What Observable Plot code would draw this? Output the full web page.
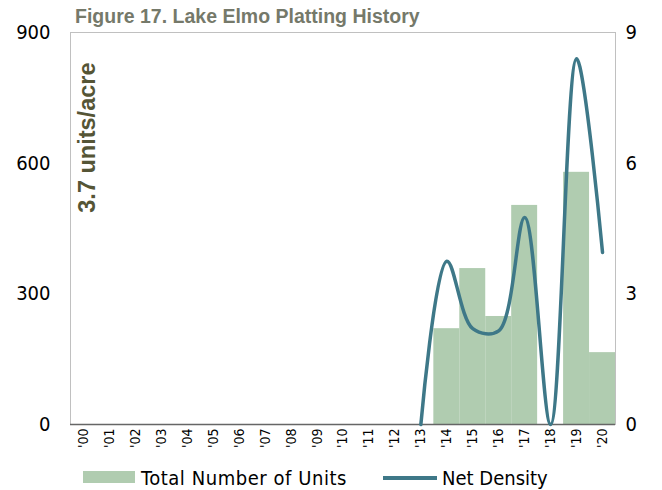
<!DOCTYPE html>
<html>
<head>
<meta charset="utf-8">
<script src="https://cdn.jsdelivr.net/npm/d3@7"></script>
<script src="https://cdn.jsdelivr.net/npm/@observablehq/plot@0.6"></script>
<style>
  body { margin: 0; background: #fff; }
  #wrap { position: relative; width: 662px; height: 490px; overflow: hidden; }
  #title { box-sizing: border-box; height: 26px; padding: 6.5px 0 0 75px; font: bold 19.5px "Liberation Sans", Arial, sans-serif; line-height: 19.5px; color: #75796a; white-space: nowrap; }
  #legend { position: relative; height: 34px; font-family: "DejaVu Sans Condensed", "DejaVu Sans", sans-serif; font-stretch: condensed; font-size: 20px; line-height: 20px; color: #000; }
  #legend .sw { position: absolute; }
  #legend .tx { position: absolute; top: 12px; white-space: nowrap; }
</style>
</head>
<body>
<div id="wrap">
  <div id="title">Figure 17. Lake Elmo Platting History</div>
  <div id="chart"></div>
  <div id="legend"></div>
</div>
<script>
const years = ["'00","'01","'02","'03","'04","'05","'06","'07","'08","'09","'10","'11","'12","'13","'14","'15","'16","'17","'18","'19","'20"];
const units = [0,0,0,0,0,0,0,0,0,0,0,0,0,0,220,358,248,503,0,579,165];
const density = [null,null,null,null,null,null,null,null,null,null,null,null,null,0,3.75,2.2,2.15,4.75,0,8.4,3.95];
const unitTicks = [0,300,600,900];
const annotation = "3.7 units/acre";
const seriesNames = ["Total Number of Units", "Net Density"];

const barColor = "#b0ccb0";
const lineColor = "#3e7888";
const font = "'DejaVu Sans Condensed', 'DejaVu Sans', sans-serif";

const table = years.map((y, i) => ({i, year: y, units: units[i], density: density[i]}));
const barData = table.filter(d => d.units > 0);
const lineData = table.filter(d => d.density != null);

const chart = Plot.plot({
  width: 662,
  height: 430,
  marginLeft: 70,
  marginRight: 47,
  marginTop: 6,
  marginBottom: 32,
  style: {fontFamily: font, fontStretch: "condensed", overflow: "visible", background: "transparent", color: "#000"},
  x: {type: "linear", domain: [-0.5, years.length - 0.5]},
  y: {domain: [0, 900]},
  marks: [
    Plot.rectY(barData, {x1: d => d.i - 0.5, x2: d => d.i + 0.5, y: "units", fill: barColor, inset: 0}),
    Plot.frame({stroke: "#c0c0c0", strokeWidth: 1}),
    Plot.ruleY([0], {stroke: "#666", strokeWidth: 1.5}),
    Plot.line(lineData, {x: "i", y: d => d.density * 100, stroke: lineColor, strokeWidth: 3.5, curve: "catmull-rom"}),
    Plot.axisY({anchor: "left", ticks: unitTicks, tickSize: 0, tickPadding: 20, fontSize: 20, label: null, tickFormat: d => String(d)}),
    Plot.axisY({anchor: "right", ticks: unitTicks, tickSize: 0, tickPadding: 10, fontSize: 20, label: null, tickFormat: d => String(d / 100)}),
    Plot.axisX({ticks: d3.range(years.length), tickFormat: i => years[i], tickRotate: -90, tickSize: 0, tickPadding: 4, fontSize: 14, label: null}),
    Plot.text([annotation], {frameAnchor: "top-left", rotate: -90, textAnchor: "end", dx: 8, dy: 30, fontSize: 23.5, fontWeight: "bold", fill: "#555536", fontFamily: "'Liberation Sans', Arial, sans-serif"})
  ]
});
document.getElementById("chart").appendChild(chart);

const legend = document.getElementById("legend");
legend.innerHTML = `
  <div class="sw" style="left:83px;top:15px;width:52px;height:12px;background:${barColor}"></div>
  <div class="tx" style="left:141px;letter-spacing:0.55px">${seriesNames[0]}</div>
  <div class="sw" style="left:383px;top:20px;width:54px;height:4px;background:${lineColor}"></div>
  <div class="tx" style="left:442px">${seriesNames[1]}</div>`;
</script>
</body>
</html>
